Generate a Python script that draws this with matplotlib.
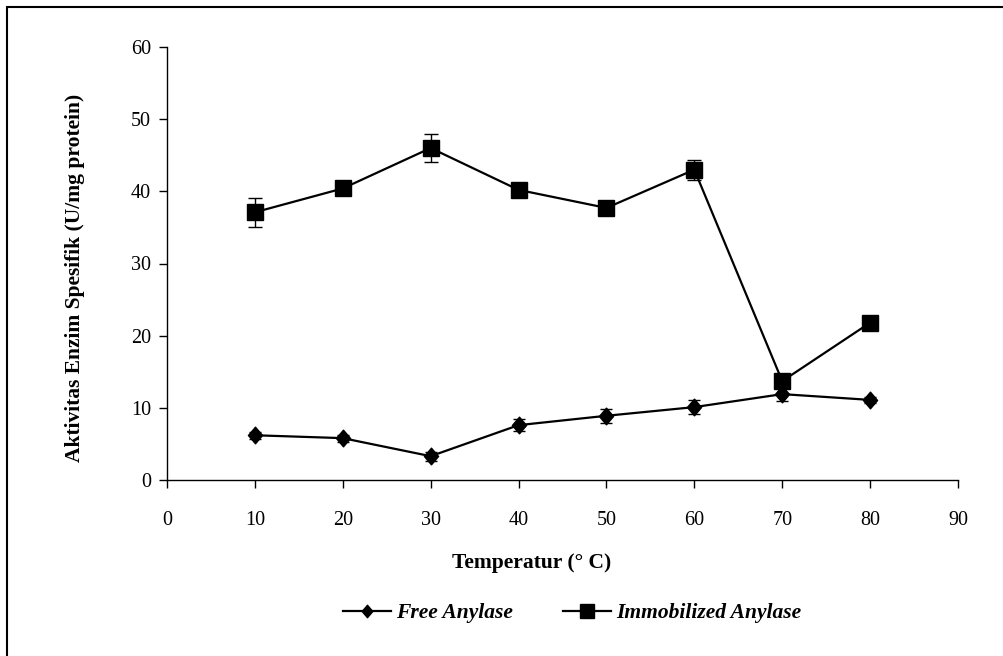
import matplotlib
matplotlib.use("Agg")
import matplotlib.pyplot as plt
from matplotlib.patches import Rectangle
from matplotlib.lines import Line2D
from matplotlib.path import Path

temperature = [10, 20, 30, 40, 50, 60, 70, 80]
free_amylase = [6.2, 5.8, 3.3, 7.6, 8.9, 10.1, 11.9, 11.1]
free_err = [0.5, 0.5, 0.6, 0.8, 1.0, 1.0, 1.0, 0.4]
immob_amylase = [37.1, 40.4, 46.0, 40.2, 37.7, 43.0, 13.7, 21.8]
immob_err = [2.0, 0.5, 2.0, 0.5, 0.5, 1.4, 0.5, 0.5]
x_ticks = [0, 10, 20, 30, 40, 50, 60, 70, 80, 90]
y_ticks = [0, 10, 20, 30, 40, 50, 60]

plt.rcParams['font.family'] = ['Liberation Serif', 'DejaVu Serif']

diamond = Path([(0, 1), (0.85, 0), (0, -1), (-0.85, 0), (0, 1)],
               [Path.MOVETO, Path.LINETO, Path.LINETO, Path.LINETO, Path.CLOSEPOLY])

fig = plt.figure(figsize=(10.04, 6.56), dpi=100)
fig.patches.append(Rectangle((7/1004, -0.5), 2.0, 0.5 + 1 - 7/656, transform=fig.transFigure,
                             fill=False, edgecolor='black', linewidth=1.5, zorder=0))

ax = fig.add_axes([167/1004, 1 - 480/656, (958 - 167)/1004, (480 - 47)/656])

ax.errorbar(temperature, free_amylase, yerr=free_err, color='black', marker=diamond,
            markersize=12, linewidth=1.6, elinewidth=1.0, capsize=4, capthick=1.0,
            label='Free Anylase')
ax.errorbar(temperature, immob_amylase, yerr=immob_err, color='black', marker='s',
            markersize=11.5, linewidth=1.6, elinewidth=1.0, capsize=5, capthick=1.0,
            label='Immobilized Anylase')

ax.set_xlim(0, 90)
ax.set_ylim(0, 60)
ax.set_xticks(x_ticks)
ax.set_yticks(y_ticks)
ax.spines['top'].set_visible(False)
ax.spines['right'].set_visible(False)
for s in ['left', 'bottom']:
    ax.spines[s].set_linewidth(1.0)
ax.tick_params(direction='out', length=5.5, width=1.0, labelsize=14.5)
ax.tick_params(axis='x', pad=17)
ax.tick_params(axis='y', pad=6)

ax.set_xlabel('Temperatur (° C)', fontsize=15.5, fontweight='bold', va='center')
ax.xaxis.set_label_coords((532 - 167)/791, (480 - 563)/433)
ax.set_ylabel('Aktivitas Enzim Spesifik (U/mg protein)', fontsize=15.5, fontweight='bold',
              va='center')
ax.yaxis.set_label_coords((75 - 167)/791, (480 - 278)/433)

handles = [Line2D([], [], color='black', marker=diamond, markersize=9, linewidth=1.6),
           Line2D([], [], color='black', marker='s', markersize=10.5, linewidth=1.6)]
fig.legend(handles, ['Free Anylase', 'Immobilized Anylase'], loc='center',
           bbox_to_anchor=(572/1004, 1 - 613/656), ncol=2, frameon=False,
           prop={'family': 'Liberation Serif', 'weight': 'bold', 'style': 'italic', 'size': 15.5},
           handlelength=2.23, columnspacing=2.3, handletextpad=0.25)

fig.savefig('out.png', dpi=100, facecolor='white')
